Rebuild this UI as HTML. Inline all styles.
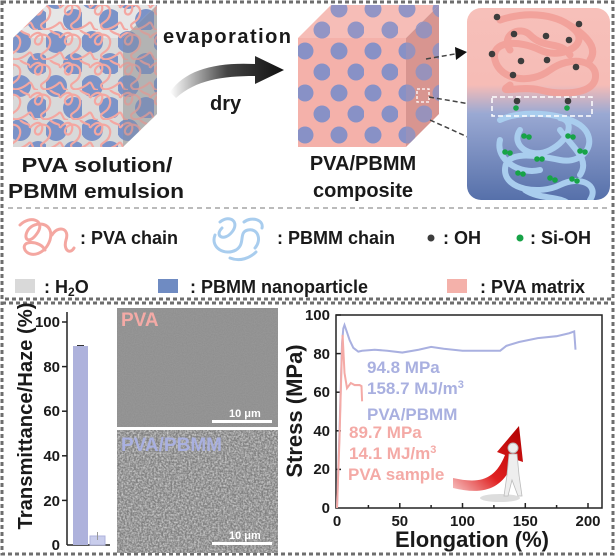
<!DOCTYPE html>
<html><head><meta charset="utf-8"><style>
html,body{margin:0;padding:0;background:#fff;}
svg{display:block;font-family:"Liberation Sans",sans-serif;}
</style></head><body>
<svg width="615" height="559" viewBox="0 0 615 559" xmlns="http://www.w3.org/2000/svg">
<defs>
 <pattern id="dots" width="34" height="42" patternUnits="userSpaceOnUse" x="296" y="40">
  <circle cx="9" cy="11" r="8.5" fill="#8891c6"/><circle cx="26" cy="32" r="8.5" fill="#8891c6"/>
 </pattern>
 <pattern id="blobs" width="36" height="44" patternUnits="userSpaceOnUse" x="10" y="30">
  <circle cx="10" cy="12" r="11" fill="#7b93c8"/><circle cx="28" cy="34" r="11" fill="#7b93c8"/>
 </pattern>
 <pattern id="chains" width="30" height="30" patternUnits="userSpaceOnUse">
  <path d="M0 8 C6 0 14 2 12 10 C10 18 2 14 6 8 C10 2 22 4 20 14 C18 24 8 22 12 28 C16 32 26 26 30 22 M20 0 C26 6 30 2 30 8 M0 22 C4 26 2 30 8 30" fill="none" stroke="#f4a7a1" stroke-width="2.2"/>
 </pattern>
 <linearGradient id="inset" x1="0" y1="0" x2="0" y2="1">
  <stop offset="0" stop-color="#f7c0ba"/><stop offset="0.4" stop-color="#f6bcb6"/>
  <stop offset="0.55" stop-color="#9aa9d3"/><stop offset="1" stop-color="#5670aa"/>
 </linearGradient>
 <linearGradient id="arr" x1="0" y1="0" x2="1" y2="0">
  <stop offset="0" stop-color="#fff"/><stop offset="0.5" stop-color="#444"/><stop offset="1" stop-color="#111"/>
 </linearGradient>
 <linearGradient id="red" x1="0" y1="1" x2="1" y2="0">
  <stop offset="0" stop-color="#f6c0c0"/><stop offset="0.4" stop-color="#e02020"/><stop offset="1" stop-color="#b00000"/>
 </linearGradient>
 <filter id="sem" x="0" y="0" width="1" height="1">
  <feTurbulence type="fractalNoise" baseFrequency="0.55" numOctaves="2" seed="3"/>
  <feColorMatrix type="matrix" values="0 0 0 0 0.85  0 0 0 0 0.85  0 0 0 0 0.85  1.4 0 0 0 -0.45"/>
 </filter>
 <filter id="sem2" x="0" y="0" width="1" height="1">
  <feTurbulence type="fractalNoise" baseFrequency="0.9" numOctaves="1" seed="5"/>
  <feColorMatrix type="matrix" values="0 0 0 0 0.6  0 0 0 0 0.6  0 0 0 0 0.6  0.25 0 0 0 0"/>
 </filter>
 <clipPath id="lf"><rect x="13" y="38" width="110" height="109"/></clipPath>
 <clipPath id="lt"><polygon points="13,38 123,38 157,5 47,5"/></clipPath>
 <clipPath id="lr"><polygon points="123,38 157,5 157,114 123,147"/></clipPath>
 <clipPath id="mt"><polygon points="298,38 406,38 439,5 331,5"/></clipPath>
 <clipPath id="mr"><polygon points="406,38 439,5 439,114 406,147"/></clipPath>
 <clipPath id="ins"><rect x="467" y="8" width="143" height="192" rx="14"/></clipPath>
</defs>

<!-- outer dashed borders -->
<g fill="none" stroke="#6e6e6e" stroke-width="3" stroke-dasharray="4 3">
 <rect x="2" y="2" width="611" height="297"/>
 <rect x="2" y="303" width="611" height="251"/>
</g>
<line x1="8" y1="208" x2="608" y2="208" stroke="#bbb" stroke-width="2" stroke-dasharray="5 4"/>

<!-- left cube -->
<rect x="13" y="38" width="110" height="109" fill="#d9d9d9"/>
<rect x="13" y="38" width="110" height="109" fill="url(#blobs)" clip-path="url(#lf)"/>
<rect x="13" y="38" width="110" height="109" fill="url(#chains)" clip-path="url(#lf)"/>
<polygon points="13,38 123,38 157,5 47,5" fill="#e6e6e6"/>
<rect x="13" y="0" width="150" height="40" fill="url(#blobs)" clip-path="url(#lt)"/>
<rect x="13" y="0" width="150" height="40" fill="url(#chains)" clip-path="url(#lt)"/>
<polygon points="123,38 157,5 157,114 123,147" fill="#c4c4c4"/>
<rect x="120" y="0" width="40" height="150" fill="url(#blobs)" clip-path="url(#lr)" opacity="0.85"/>
<rect x="120" y="0" width="40" height="150" fill="url(#chains)" clip-path="url(#lr)" opacity="0.8"/>
<polygon points="123,38 157,5 157,114 123,147" fill="#555" opacity="0.15"/>

<!-- arrow -->
<path d="M170 92 C185 70 215 62 255 64 L255 56 L284 70 L255 84 L255 76 C222 76 196 80 176 98 Z" fill="url(#arr)"/>
<text x="163" y="43" font-size="20" font-weight="bold" fill="#1a1a1a" textLength="128">evaporation</text>
<text x="210" y="110" font-size="20" font-weight="bold" fill="#1a1a1a">dry</text>

<!-- middle cube -->
<rect x="298" y="38" width="108" height="109" fill="#f4b1aa"/>
<rect x="298" y="38" width="108" height="109" fill="url(#dots)"/>
<polygon points="298,38 406,38 439,5 331,5" fill="#f6bdb7"/>
<rect x="298" y="0" width="145" height="40" fill="url(#dots)" clip-path="url(#mt)" opacity="0.9"/>
<polygon points="406,38 439,5 439,114 406,147" fill="#d89590"/>
<rect x="400" y="0" width="45" height="150" fill="url(#dots)" clip-path="url(#mr)" opacity="0.8"/>
<rect x="417" y="89" width="12" height="13" fill="none" stroke="#fff" stroke-width="1.3" stroke-dasharray="3 2"/>
<g stroke="#444" stroke-width="1.5" stroke-dasharray="5 3" fill="none">
 <line x1="426" y1="59" x2="455" y2="54"/><line x1="429" y1="97" x2="470" y2="104"/><line x1="430" y1="120" x2="470" y2="138"/>
</g>
<g fill="#111"><polygon points="467,52 455,47 456,60"/><polygon points="482,106 470,99 469,111"/><polygon points="482,142 471,133 467,144"/></g>

<!-- labels -->
<g font-size="20" font-weight="bold" fill="#1a1a1a" text-anchor="middle">
 <text x="97" y="172" textLength="151" lengthAdjust="spacingAndGlyphs">PVA solution/</text>
 <text x="96" y="198" textLength="176" lengthAdjust="spacingAndGlyphs">PBMM emulsion</text>
 <text x="363" y="170">PVA/PBMM</text>
 <text x="363" y="197">composite</text>
</g>

<!-- inset -->
<rect x="467" y="8" width="143" height="192" rx="14" fill="url(#inset)"/>
<g clip-path="url(#ins)" fill="none" stroke-linecap="round">
 <path d="M500 20 C530 10 560 15 575 30 C590 45 560 60 540 50 C520 40 490 40 495 60 C500 80 530 85 550 70 C570 55 600 60 595 80 C590 95 560 95 540 90 C520 85 495 95 510 85 M560 20 C580 30 600 45 590 60 M510 50 C500 35 520 25 530 35 C545 50 560 40 570 55" stroke="#f19f98" stroke-width="7" opacity="0.9"/>
 <path d="M500 120 C520 110 560 112 580 125 C600 140 585 165 560 160 C535 155 505 150 505 170 C505 190 540 195 560 185 C580 175 600 185 590 200 M520 130 C510 145 530 160 550 150 C570 140 575 120 560 118 M500 140 C495 160 520 175 540 170 M560 130 C575 150 590 160 580 175 M525 190 C540 200 560 195 570 205" stroke="#a9cdee" stroke-width="6"/>
</g>
<g fill="#3d3d3d">
 <circle cx="497" cy="17" r="3.3"/><circle cx="579" cy="24" r="3.3"/><circle cx="514" cy="34" r="3.3"/><circle cx="546" cy="36" r="3.3"/>
 <circle cx="569" cy="40" r="3.3"/><circle cx="492" cy="54" r="3.3"/><circle cx="521" cy="61" r="3.3"/><circle cx="547" cy="60" r="3.3"/>
 <circle cx="576" cy="67" r="3.3"/><circle cx="513" cy="75" r="3.3"/><circle cx="517" cy="101" r="3.3"/><circle cx="568" cy="101" r="3.3"/>
</g>
<g fill="#17a347">
 <circle cx="516" cy="108" r="2.8"/><circle cx="567" cy="108" r="2.8"/>
 <circle cx="524" cy="136" r="2.8"/><circle cx="529" cy="137" r="2.8"/><circle cx="568" cy="136" r="2.8"/><circle cx="573" cy="137" r="2.8"/>
 <circle cx="505" cy="152" r="2.8"/><circle cx="510" cy="153" r="2.8"/><circle cx="580" cy="151" r="2.8"/><circle cx="585" cy="152" r="2.8"/>
 <circle cx="537" cy="159" r="2.8"/><circle cx="542" cy="159" r="2.8"/><circle cx="518" cy="173" r="2.8"/><circle cx="523" cy="174" r="2.8"/>
 <circle cx="550" cy="178" r="2.8"/><circle cx="555" cy="180" r="2.8"/><circle cx="572" cy="179" r="2.8"/><circle cx="577" cy="181" r="2.8"/>
</g>
<rect x="492" y="97" width="100" height="19" fill="none" stroke="#fff" stroke-width="1.5" stroke-dasharray="5 3"/>

<!-- legend -->
<path d="M20 225 C30 215 45 220 38 232 C30 245 22 240 28 230 C35 220 55 222 50 240 C45 255 30 258 25 250 C20 240 40 240 45 250 M52 235 C58 225 70 228 66 240 C63 250 70 255 74 248" fill="none" stroke="#f4a7a1" stroke-width="3" stroke-linecap="round"/>
<path d="M220 222 C230 214 240 222 232 232 C224 242 214 236 222 228 M215 235 C210 248 225 256 236 250 C246 244 238 232 248 230 C258 228 262 240 255 248 M244 222 C252 216 264 220 262 228 M230 258 C240 262 250 258 256 252" fill="none" stroke="#a9cdee" stroke-width="3" stroke-linecap="round"/>
<circle cx="431" cy="238" r="3.5" fill="#3d3d3d"/><circle cx="520" cy="238" r="3.5" fill="#17a347"/>
<g font-size="18" font-weight="bold" fill="#1a1a1a">
 <text x="80" y="244">: PVA chain</text>
 <text x="277" y="244">: PBMM chain</text>
 <text x="443" y="244">: OH</text>
 <text x="530" y="244">: Si-OH</text>
 <text x="44" y="293">: H<tspan font-size="12" dy="3">2</tspan><tspan dy="-3">O</tspan></text>
 <text x="190" y="293">: PBMM nanoparticle</text>
 <text x="480" y="293">: PVA matrix</text>
</g>
<rect x="15" y="279" width="20" height="14" fill="#d9d9d9"/>
<rect x="158" y="279" width="20" height="14" fill="#6f8bc2"/>
<rect x="447" y="279" width="20" height="14" fill="#f4b1aa"/>

<!-- bar chart -->
<g stroke="#222" stroke-width="1.5">
 <line x1="67" y1="312" x2="67" y2="545"/><line x1="67" y1="545" x2="110" y2="545"/>
 <line x1="62" y1="322" x2="67" y2="322"/><line x1="62" y1="366.6" x2="67" y2="366.6"/><line x1="62" y1="411.2" x2="67" y2="411.2"/>
 <line x1="62" y1="455.8" x2="67" y2="455.8"/><line x1="62" y1="500.4" x2="67" y2="500.4"/>
</g>
<rect x="73" y="346" width="15" height="199" fill="#aeb2dc"/>
<line x1="77" y1="345.5" x2="84" y2="345.5" stroke="#333" stroke-width="1"/>
<rect x="90" y="536" width="15" height="9" fill="#c9cdec" stroke="#aeb2dc"/>
<line x1="97.5" y1="532" x2="97.5" y2="540" stroke="#999" stroke-width="1"/>
<g font-size="15" font-weight="bold" fill="#1a1a1a" text-anchor="end">
 <text x="60" y="327">100</text><text x="60" y="372">80</text><text x="60" y="416">60</text>
 <text x="60" y="461">40</text><text x="60" y="506">20</text><text x="60" y="550">0</text>
</g>
<text transform="translate(32,416) rotate(-90)" font-size="20" font-weight="bold" fill="#1a1a1a" text-anchor="middle" textLength="227" lengthAdjust="spacingAndGlyphs">Transmittance/Haze (%)</text>

<!-- SEM images -->
<rect x="117" y="308" width="161" height="119" fill="#8b8b8b"/>
<rect x="117" y="308" width="161" height="119" filter="url(#sem2)"/>
<rect x="117" y="430" width="161" height="123" fill="#7f7f7f"/>
<rect x="117" y="430" width="161" height="123" filter="url(#sem)"/>
<g fill="#fff"><rect x="212" y="420" width="60" height="3"/><rect x="212" y="542" width="60" height="3"/></g>
<g font-size="11" font-weight="bold" fill="#fff"><text x="229" y="417">10 μm</text><text x="229" y="539">10 μm</text></g>
<text x="121" y="326" font-size="19" font-weight="bold" fill="#f4aaa6">PVA</text>
<text x="121" y="451" font-size="19" font-weight="bold" fill="#a9b0e0">PVA/PBMM</text>

<!-- stress chart -->
<rect x="336" y="315" width="266" height="193" fill="none" stroke="#222" stroke-width="1.5"/>
<g stroke="#222" stroke-width="1.5">
 <line x1="336" y1="315" x2="341" y2="315"/><line x1="336" y1="353.6" x2="341" y2="353.6"/><line x1="336" y1="392.2" x2="341" y2="392.2"/>
 <line x1="336" y1="430.8" x2="341" y2="430.8"/><line x1="336" y1="469.4" x2="341" y2="469.4"/>
 <line x1="399.8" y1="508" x2="399.8" y2="503"/><line x1="462.5" y1="508" x2="462.5" y2="503"/><line x1="525.3" y1="508" x2="525.3" y2="503"/><line x1="588" y1="508" x2="588" y2="503"/>
 <line x1="368.4" y1="508" x2="368.4" y2="505"/><line x1="431.1" y1="508" x2="431.1" y2="505"/><line x1="493.9" y1="508" x2="493.9" y2="505"/><line x1="556.6" y1="508" x2="556.6" y2="505"/>
</g>
<g font-size="15" font-weight="bold" fill="#1a1a1a" text-anchor="end">
 <text x="330" y="320">100</text><text x="330" y="359">80</text><text x="330" y="397">60</text>
 <text x="330" y="436">40</text><text x="330" y="474">20</text><text x="330" y="513">0</text>
</g>
<g font-size="15" font-weight="bold" fill="#1a1a1a" text-anchor="middle">
 <text x="337" y="526">0</text><text x="399.8" y="526">50</text><text x="462.5" y="526">100</text><text x="525.3" y="526">150</text><text x="588" y="526">200</text>
</g>
<text x="472" y="547" font-size="22" font-weight="bold" fill="#1a1a1a" text-anchor="middle">Elongation (%)</text>
<text transform="translate(302,411) rotate(-90)" font-size="22" font-weight="bold" fill="#1a1a1a" text-anchor="middle">Stress (MPa)</text>

<g transform="translate(2,508) scale(1,1.016) translate(0,-508)">
<polyline fill="none" stroke="#a9b0e0" stroke-width="2" points="335,508 337.5,432 340,346.5 341.3,331.3 342.5,327.9 345,335.1 347.6,342.7 351.3,350.3 356.3,354.1 360.1,353.2 372.7,352.2 385.2,353.2 400.3,355 416.6,352.2 429.1,349.4 441.7,351.3 460.5,353.2 479.3,353.2 498.2,353.2 504.4,348.4 517,344.6 535.8,340.8 554.6,338.9 567.2,336 572.2,334.2 573.5,352.2"/>
<polyline fill="none" stroke="#f4aaa6" stroke-width="2" points="335,508 337.5,440 339.4,372 340.6,337.6 342.5,375 345,390 348.8,385 352.6,387 357.6,387 359.5,388 360.1,403"/>
</g>

<g font-size="17" font-weight="bold" fill="#a9b0e0">
 <text x="367" y="373">94.8 MPa</text>
 <text x="367" y="394">158.7 MJ/m<tspan font-size="11" dy="-6">3</tspan></text>
 <text x="367" y="420">PVA/PBMM</text>
</g>
<g font-size="17" font-weight="bold" fill="#f4aaa6">
 <text x="349" y="438">89.7 MPa</text>
 <text x="349" y="459">14.1 MJ/m<tspan font-size="11" dy="-6">3</tspan></text>
 <text x="348" y="480">PVA sample</text>
</g>

<!-- red arrow with figure -->
<ellipse cx="500" cy="498" rx="20" ry="4" fill="#ddd"/>
<path d="M453 478 C480 484 495 480 505 455 L497 452 L519 426 L523 462 L514 459 C505 488 485 496 453 488 Z" fill="url(#red)"/>
<circle cx="513" cy="448" r="5" fill="#eee" stroke="#bbb"/>
<path d="M509 454 L517 454 L519 475 L522 496 L518 496 L512 480 L508 496 L504 496 L507 475 Z" fill="#eee" stroke="#bbb" stroke-width="0.8"/>
</svg>
</body></html>
